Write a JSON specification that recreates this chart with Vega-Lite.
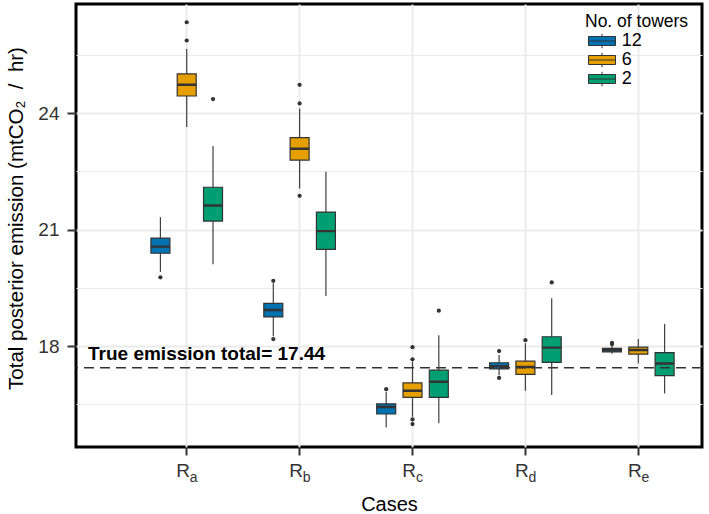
{
  "$schema": "https://vega.github.io/schema/vega-lite/v6.json",
  "width": 626,
  "height": 443,
  "autosize": {"type": "none"},
  "padding": {"left": 76, "top": 4, "right": 7, "bottom": 67},
  "config": {
    "font": "Liberation Sans",
    "view": {"stroke": "#000000", "strokeWidth": 3},
    "axis": {"domain": false, "labelColor": "#333333", "tickColor": "#333333", "tickWidth": 2, "titleColor": "#000000", "titleFontWeight": "normal", "labelFontSize": 19, "titleFontSize": 20, "gridColor": "#ebebeb"},
    "legend": {"titleFontWeight": "normal"}
  },
  "datasets": {
    "boxes": [
      {"case": "a", "tower": "12", "lower": 19.91, "q1": 20.39, "median": 20.56, "q3": 20.78, "upper": 21.32},
      {"case": "a", "tower": "6", "lower": 23.64, "q1": 24.44, "median": 24.73, "q3": 25.01, "upper": 25.65},
      {"case": "a", "tower": "2", "lower": 20.11, "q1": 21.22, "median": 21.62, "q3": 22.09, "upper": 23.15},
      {"case": "b", "tower": "12", "lower": 18.25, "q1": 18.75, "median": 18.93, "q3": 19.10, "upper": 19.62},
      {"case": "b", "tower": "6", "lower": 22.06, "q1": 22.79, "median": 23.08, "q3": 23.37, "upper": 24.12},
      {"case": "b", "tower": "2", "lower": 19.29, "q1": 20.49, "median": 20.96, "q3": 21.45, "upper": 22.49},
      {"case": "c", "tower": "12", "lower": 15.90, "q1": 16.25, "median": 16.43, "q3": 16.51, "upper": 16.82},
      {"case": "c", "tower": "6", "lower": 16.18, "q1": 16.68, "median": 16.85, "q3": 17.05, "upper": 17.60},
      {"case": "c", "tower": "2", "lower": 16.01, "q1": 16.68, "median": 17.08, "q3": 17.38, "upper": 18.28},
      {"case": "d", "tower": "12", "lower": 17.25, "q1": 17.41, "median": 17.48, "q3": 17.57, "upper": 17.77},
      {"case": "d", "tower": "6", "lower": 16.85, "q1": 17.27, "median": 17.46, "q3": 17.61, "upper": 18.07},
      {"case": "d", "tower": "2", "lower": 16.74, "q1": 17.58, "median": 17.96, "q3": 18.24, "upper": 19.23},
      {"case": "e", "tower": "12", "lower": 17.80, "q1": 17.85, "median": 17.90, "q3": 17.94, "upper": 18.03},
      {"case": "e", "tower": "6", "lower": 17.55, "q1": 17.79, "median": 17.90, "q3": 17.97, "upper": 18.18},
      {"case": "e", "tower": "2", "lower": 16.78, "q1": 17.24, "median": 17.55, "q3": 17.83, "upper": 18.57}
    ],
    "outliers": [
      {"case": "a", "tower": "12", "value": 19.77},
      {"case": "a", "tower": "6", "value": 25.87},
      {"case": "a", "tower": "6", "value": 26.34},
      {"case": "a", "tower": "2", "value": 24.36},
      {"case": "b", "tower": "12", "value": 19.68},
      {"case": "b", "tower": "12", "value": 18.18},
      {"case": "b", "tower": "6", "value": 24.25},
      {"case": "b", "tower": "6", "value": 24.73},
      {"case": "b", "tower": "6", "value": 21.87},
      {"case": "c", "tower": "12", "value": 16.89},
      {"case": "c", "tower": "6", "value": 17.66},
      {"case": "c", "tower": "6", "value": 17.97},
      {"case": "c", "tower": "6", "value": 16.11},
      {"case": "c", "tower": "6", "value": 15.99},
      {"case": "c", "tower": "2", "value": 18.91},
      {"case": "d", "tower": "12", "value": 17.87},
      {"case": "d", "tower": "12", "value": 17.18},
      {"case": "d", "tower": "6", "value": 18.15},
      {"case": "d", "tower": "2", "value": 19.64},
      {"case": "e", "tower": "12", "value": 18.08},
      {"case": "e", "tower": "12", "value": 18.05}
    ],
    "truth": [
      {"label": "True emission total= 17.44", "value": 17.44}
    ]
  },
  "resolve": {"axis": {"x": "independent", "y": "independent"}},
  "layer": [
    {
      "data": {"name": "boxes"},
      "mark": {"type": "rule", "color": "#404040", "strokeWidth": 1.2},
      "encoding": {
        "x": {"field": "case", "type": "nominal", "axis": null,
              "scale": {"domain": ["a", "b", "c", "d", "e"], "paddingInner": 0, "paddingOuter": 0.2725, "align": 0.882}},
        "xOffset": {"field": "tower", "type": "nominal",
              "scale": {"domain": ["12", "6", "2"], "paddingInner": 0.278, "paddingOuter": 0.785}},
        "y": {"field": "lower", "type": "quantitative", "axis": null,
              "scale": {"domain": [15.4, 26.81], "nice": false, "zero": false}},
        "y2": {"field": "upper"}
      }
    },
    {
      "data": {"name": "boxes"},
      "mark": {"type": "bar", "stroke": "#333333", "strokeWidth": 1.2, "opacity": 1},
      "encoding": {
        "x": {"field": "case", "type": "nominal",
              "axis": {"orient": "bottom", "labelExpr": "'R'", "labelAngle": 0, "tickSize": 8, "labelPadding": 6, "labelOffset": -3.5,
                       "grid": true, "gridWidth": 2, "bandPosition": 0.5, "title": "Cases", "titleY": 47}},
        "xOffset": {"field": "tower", "type": "nominal"},
        "y": {"field": "q1", "type": "quantitative",
              "axis": {"orient": "left", "values": [18, 21, 24], "tickSize": 9, "labelPadding": 8, "grid": true, "gridWidth": 2,
                       "title": "Total posterior emission (mtCO₂ \u00a0/\u00a0 hr)", "titleFontSize": 20.5, "titleX": -50, "titleY": 214, "titleAlign": "center"}},
        "y2": {"field": "q3"},
        "fill": {"field": "tower", "type": "nominal", "title": "No. of towers",
                 "scale": {"domain": ["12", "6", "2"], "range": ["#0072B2", "#E69F00", "#009E73"]},
                 "legend": {"orient": "none", "legendX": 509, "legendY": 9, "padding": 0, "titlePadding": 1, "rowPadding": -1,
                            "titleFontSize": 17.5, "titleColor": "#000000", "labelFontSize": 18, "labelColor": "#000000",
                            "symbolType": "M-1.5,-0.5H1.5V0.5H-1.5Z M-1.5,0H1.5 M0,-0.8V-0.5 M0,0.5V0.8",
                            "symbolSize": 324, "symbolStrokeColor": "#333333", "symbolStrokeWidth": 1, "symbolOpacity": 1,
                            "symbolOffset": 7.5, "labelOffset": 10.2}}
      }
    },
    {
      "data": {"name": "boxes"},
      "mark": {"type": "bar", "fillOpacity": 0, "stroke": "#333333", "strokeWidth": 2.4},
      "encoding": {
        "x": {"field": "case", "type": "nominal", "axis": null},
        "xOffset": {"field": "tower", "type": "nominal"},
        "y": {"field": "median", "type": "quantitative", "axis": null},
        "y2": {"field": "median"}
      }
    },
    {
      "data": {"name": "outliers"},
      "mark": {"type": "point", "filled": true, "color": "#333333", "size": 18, "opacity": 1},
      "encoding": {
        "x": {"field": "case", "type": "nominal",
              "axis": {"orient": "bottom", "labelAngle": 0, "tickSize": 8, "tickOpacity": 0, "labelPadding": 15, "labelFontSize": 14,
                       "labelOffset": 7, "grid": false, "title": null, "bandPosition": 0.5}},
        "xOffset": {"field": "tower", "type": "nominal"},
        "y": {"field": "value", "type": "quantitative", "axis": null}
      }
    },
    {
      "data": {"name": "truth"},
      "mark": {"type": "rule", "color": "#333333", "strokeWidth": 1.5, "strokeDash": [10, 6]},
      "encoding": {
        "y": {"field": "value", "type": "quantitative",
              "axis": {"orient": "left", "values": [16.5, 19.5, 22.5, 25.5], "grid": true, "gridWidth": 1, "labels": false, "ticks": false, "title": null}}
      }
    },
    {
      "data": {"name": "truth"},
      "mark": {"type": "text", "align": "left", "baseline": "alphabetic", "fontSize": 19, "fontWeight": "bold", "color": "#000000", "dy": -7.7},
      "encoding": {
        "x": {"value": 12},
        "y": {"field": "value", "type": "quantitative", "axis": null},
        "text": {"field": "label"}
      }
    }
  ]
}
